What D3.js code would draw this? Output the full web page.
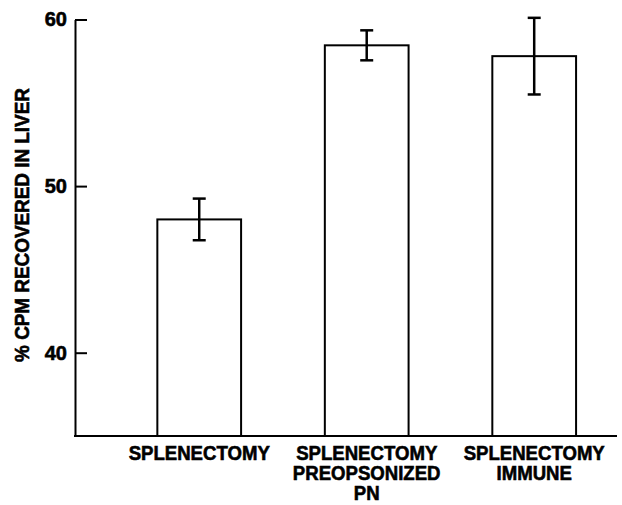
<!DOCTYPE html>
<html>
<head>
<meta charset="utf-8">
<script src="https://cdn.jsdelivr.net/npm/d3@7"></script>
<style>
  body { margin: 0; background: #fff; }
  text { font-family: "Liberation Sans", Arial, sans-serif; font-weight: bold; fill: #000; stroke: #000; stroke-width: 0.6px; }
</style>
</head>
<body>
<div class="canvas"></div>
<script>
// data
const groups = [
  ['SPLENECTOMY'],
  ['SPLENECTOMY', 'PREOPSONIZED', 'PN'],
  ['SPLENECTOMY', 'IMMUNE']
];
const means = [48.0, 58.45, 57.8];
const errs = [1.25, 0.9, 2.3];
const yTicks = [40, 50, 60];

const dims = {width: 622, height: 505};

const svg = d3.select('.canvas')
  .append('svg')
  .attr('width', dims.width)
  .attr('height', dims.height);

// scales
const y = d3.scaleLinear().domain([35, 60]).range([436, 19.5]);
const x = d3.scaleBand()
  .domain(d3.range(groups.length))
  .range([75, 617])
  .paddingInner(0.5)
  .paddingOuter(0.368)
  .align(0.668);

// y axis with inward ticks
const yAxis = d3.axisLeft(y)
  .tickValues(yTicks)
  .tickSize(-12)
  .tickSizeOuter(0)
  .tickPadding(8);

const yG = svg.append('g')
  .attr('transform', 'translate(75,0)')
  .call(yAxis);
yG.select('.domain').attr('stroke', '#000').attr('stroke-width', 2);
yG.selectAll('.tick line').attr('stroke', '#000').attr('stroke-width', 2);
yG.selectAll('.tick text')
  .style('font-size', '20px')
  .style('font-family', '"Liberation Sans", Arial, sans-serif')
  .style('font-weight', 'bold')
  .attr('fill', '#000');

// baseline
svg.append('line')
  .attr('x1', 74).attr('x2', 617)
  .attr('y1', y(35)).attr('y2', y(35))
  .attr('stroke', '#000').attr('stroke-width', 2);

// bars
svg.selectAll('rect.bar')
  .data(means)
  .enter().append('rect')
    .attr('class', 'bar')
    .attr('x', (d, i) => x(i))
    .attr('y', d => y(d))
    .attr('width', x.bandwidth())
    .attr('height', d => y(35) - y(d))
    .attr('fill', '#fff')
    .attr('stroke', '#000')
    .attr('stroke-width', 2);

// error bars
const eb = svg.selectAll('g.err')
  .data(means)
  .enter().append('g')
    .attr('class', 'err')
    .attr('transform', (d, i) => `translate(${x(i) + x.bandwidth() / 2},0)`);

eb.append('line')
  .attr('y1', (d, i) => y(d + errs[i]))
  .attr('y2', (d, i) => y(d - errs[i]))
  .attr('stroke', '#000').attr('stroke-width', 2.5);

eb.selectAll('line.cap')
  .data((d, i) => [d + errs[i], d - errs[i]])
  .enter().append('line')
    .attr('class', 'cap')
    .attr('x1', -6.5).attr('x2', 6.5)
    .attr('y1', v => y(v)).attr('y2', v => y(v))
    .attr('stroke', '#000').attr('stroke-width', 2.5);

// category labels (slightly condensed like the original typeface)
const labels = svg.selectAll('text.cat')
  .data(groups)
  .enter().append('text')
    .attr('class', 'cat')
    .attr('text-anchor', 'middle')
    .style('font-size', '20px')
    .attr('transform', (d, i) => `translate(${x(i) + x.bandwidth() / 2},460) scale(0.93,1)`);

labels.selectAll('tspan')
  .data(d => d)
  .enter().append('tspan')
    .attr('x', 0)
    .attr('y', (d, j) => j * 19.8)
    .text(d => d);

// y label
svg.append('text')
  .attr('transform', 'translate(28.5,225) rotate(-90) scale(0.945,1)')
  .attr('text-anchor', 'middle')
  .style('font-size', '20px')
  .text('% CPM RECOVERED IN LIVER');
</script>
</body>
</html>
